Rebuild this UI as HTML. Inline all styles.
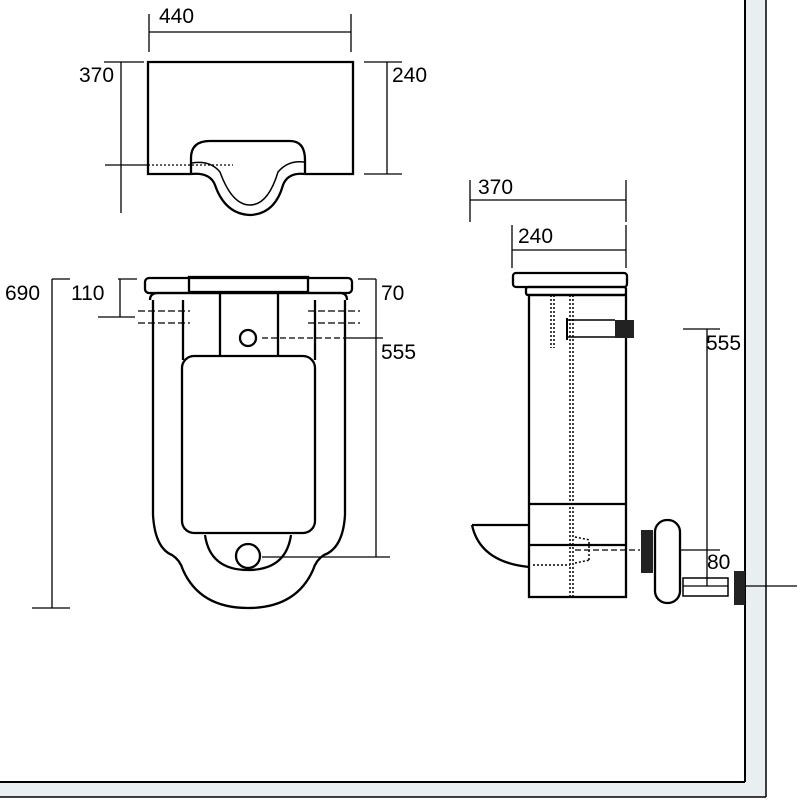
<!DOCTYPE html>
<html><head><style>html,body{margin:0;padding:0;background:#fff}svg{display:block}</style></head><body>
<svg width="800" height="800" viewBox="0 0 800 800" xmlns="http://www.w3.org/2000/svg" font-family="Liberation Sans, sans-serif" fill="none" stroke="#000">
<!-- wall & floor -->
<rect x="745" y="0" width="21" height="797" fill="#e9eef1" stroke="none"/>
<rect x="0" y="782" width="766" height="15" fill="#e9eef1" stroke="none"/>
<line x1="745" y1="0" x2="745" y2="782" stroke-width="2"/>
<line x1="766" y1="0" x2="766" y2="797" stroke-width="1.5"/>
<line x1="0" y1="782" x2="745" y2="782" stroke-width="2"/>
<line x1="0" y1="797" x2="766" y2="797" stroke-width="1.5"/>

<g font-size="21" fill="#000" stroke="none">
<text x="159" y="23">440</text>
<text x="79" y="82">370</text>
<text x="392" y="82">240</text>
<text x="5" y="300">690</text>
<text x="71" y="300">110</text>
<text x="381" y="300">70</text>
<text x="381" y="359">555</text>
<text x="478" y="194">370</text>
<text x="518" y="243">240</text>
<text x="706" y="350">555</text>
<text x="707" y="569">80</text>
</g>

<!-- top view -->
<g stroke-width="1.3">
<line x1="149" y1="14" x2="149" y2="52"/><line x1="351" y1="14" x2="351" y2="52"/><line x1="149" y1="32" x2="351" y2="32"/>
<line x1="121" y1="62" x2="121" y2="213"/><line x1="104" y1="62" x2="144" y2="62"/>
<line x1="105" y1="165" x2="148" y2="165"/>
<line x1="148" y1="165" x2="233" y2="165" stroke-dasharray="2 2"/>
<line x1="387" y1="62" x2="387" y2="174"/><line x1="364" y1="62" x2="402" y2="62"/><line x1="364" y1="174" x2="402" y2="174"/>
</g>
<g stroke-width="2.3">
<path d="M191 174 H148 V62 H353 V174 H305"/>
<path d="M191 174 V158 Q191 141 210 141 H290 Q305 141 305 160 V174"/>
<path d="M191 174 Q210 172 215 185 Q225 214 250 215 Q275 214 283 185 Q288 172 305 174"/>
<path d="M192 163 Q210 160 220 172 Q232 205 250 205 Q268 205 278 172 Q288 160 304 162" stroke-width="1.5"/>
</g>

<!-- front view -->
<g stroke-width="1.3">
<line x1="52" y1="279" x2="52" y2="608"/><line x1="52" y1="279" x2="70" y2="279"/><line x1="32" y1="608" x2="70" y2="608"/>
<line x1="120" y1="279" x2="120" y2="317"/><line x1="118" y1="279" x2="137" y2="279"/><line x1="98" y1="317" x2="135" y2="317"/>
<line x1="376" y1="279" x2="376" y2="557"/><line x1="358" y1="279" x2="376" y2="279"/>
<line x1="262" y1="557" x2="390" y2="557"/>
<line x1="262" y1="338" x2="345" y2="338" stroke-dasharray="6 3"/><line x1="345" y1="338" x2="383" y2="338"/>
<g stroke-dasharray="7 3"><line x1="138" y1="311" x2="190" y2="311"/><line x1="138" y1="323" x2="190" y2="323"/><line x1="308" y1="311" x2="360" y2="311"/><line x1="308" y1="323" x2="360" y2="323"/></g>
</g>
<g stroke-width="2.3">
<rect x="145" y="278" width="207" height="15" rx="4"/>
<rect x="189" y="277" width="119" height="15"/>
<path d="M150 300 Q150 293 158 293 H340 Q347 293 347 300"/>
<line x1="153" y1="300" x2="153" y2="515"/><line x1="183" y1="300" x2="183" y2="360"/>
<line x1="345" y1="300" x2="345" y2="515"/><line x1="315" y1="300" x2="315" y2="360"/>
<line x1="220" y1="293" x2="220" y2="356"/><line x1="278" y1="293" x2="278" y2="356"/>
<rect x="182" y="356" width="133" height="177" rx="12"/>
<path d="M153 515 Q155 548 172 555 Q180 560 183 570 Q200 608 248 608 Q296 608 313 570 Q316 560 324 555 Q343 548 345 515"/>
<path d="M205 535 Q210 570 248 570 Q286 570 291 535"/>
<circle cx="248" cy="338" r="8"/>
<circle cx="248" cy="556" r="12"/>
</g>

<!-- side view -->
<g stroke-width="1.3">
<line x1="470" y1="180" x2="470" y2="222"/><line x1="626" y1="180" x2="626" y2="222"/><line x1="470" y1="200" x2="626" y2="200"/>
<line x1="512" y1="225" x2="512" y2="268"/><line x1="626" y1="225" x2="626" y2="268"/><line x1="512" y1="250" x2="626" y2="250"/>
<line x1="707" y1="329" x2="707" y2="586"/><line x1="683" y1="329" x2="720" y2="329"/>
<line x1="745" y1="586" x2="797" y2="586"/>
<line x1="575" y1="550" x2="640" y2="550" stroke-dasharray="6 3"/><line x1="680" y1="550" x2="720" y2="550"/>
</g>
<g stroke-width="2.3">
<rect x="513" y="273" width="114" height="14" rx="3"/>
<rect x="526" y="287" width="100" height="8" rx="2"/>
<rect x="529" y="295" width="97" height="302"/>
<line x1="529" y1="504" x2="626" y2="504"/><line x1="529" y1="545" x2="626" y2="545"/>
<path d="M472 525 H529 M472 525 Q480 562 529 567"/>
<rect x="655" y="520" width="25" height="83" rx="12"/>
<rect x="683" y="578" width="45" height="18" stroke-width="1.5"/>
<line x1="683" y1="586" x2="728" y2="586" stroke-width="1.3"/>
<line x1="567" y1="320" x2="615" y2="320" stroke-width="1.5"/><line x1="567" y1="337" x2="615" y2="337" stroke-width="1.5"/>
<line x1="567" y1="318" x2="567" y2="340" stroke-width="2"/>
</g>
<g stroke-width="1.5" stroke-dasharray="2 2">
<line x1="551" y1="295" x2="551" y2="348"/><line x1="554" y1="295" x2="554" y2="348"/>
<line x1="570" y1="295" x2="570" y2="597"/><line x1="573" y1="295" x2="573" y2="597"/>
<line x1="533" y1="565" x2="570" y2="565"/><line x1="575" y1="537" x2="590" y2="540"/><line x1="575" y1="563" x2="590" y2="560"/><line x1="589" y1="542" x2="589" y2="560"/>
</g>
<g fill="#222" stroke="none">
<rect x="615" y="320" width="19" height="18"/>
<rect x="641" y="530" width="12" height="43"/>
<rect x="734" y="571" width="11" height="34"/>
</g>
</svg>
</body></html>
